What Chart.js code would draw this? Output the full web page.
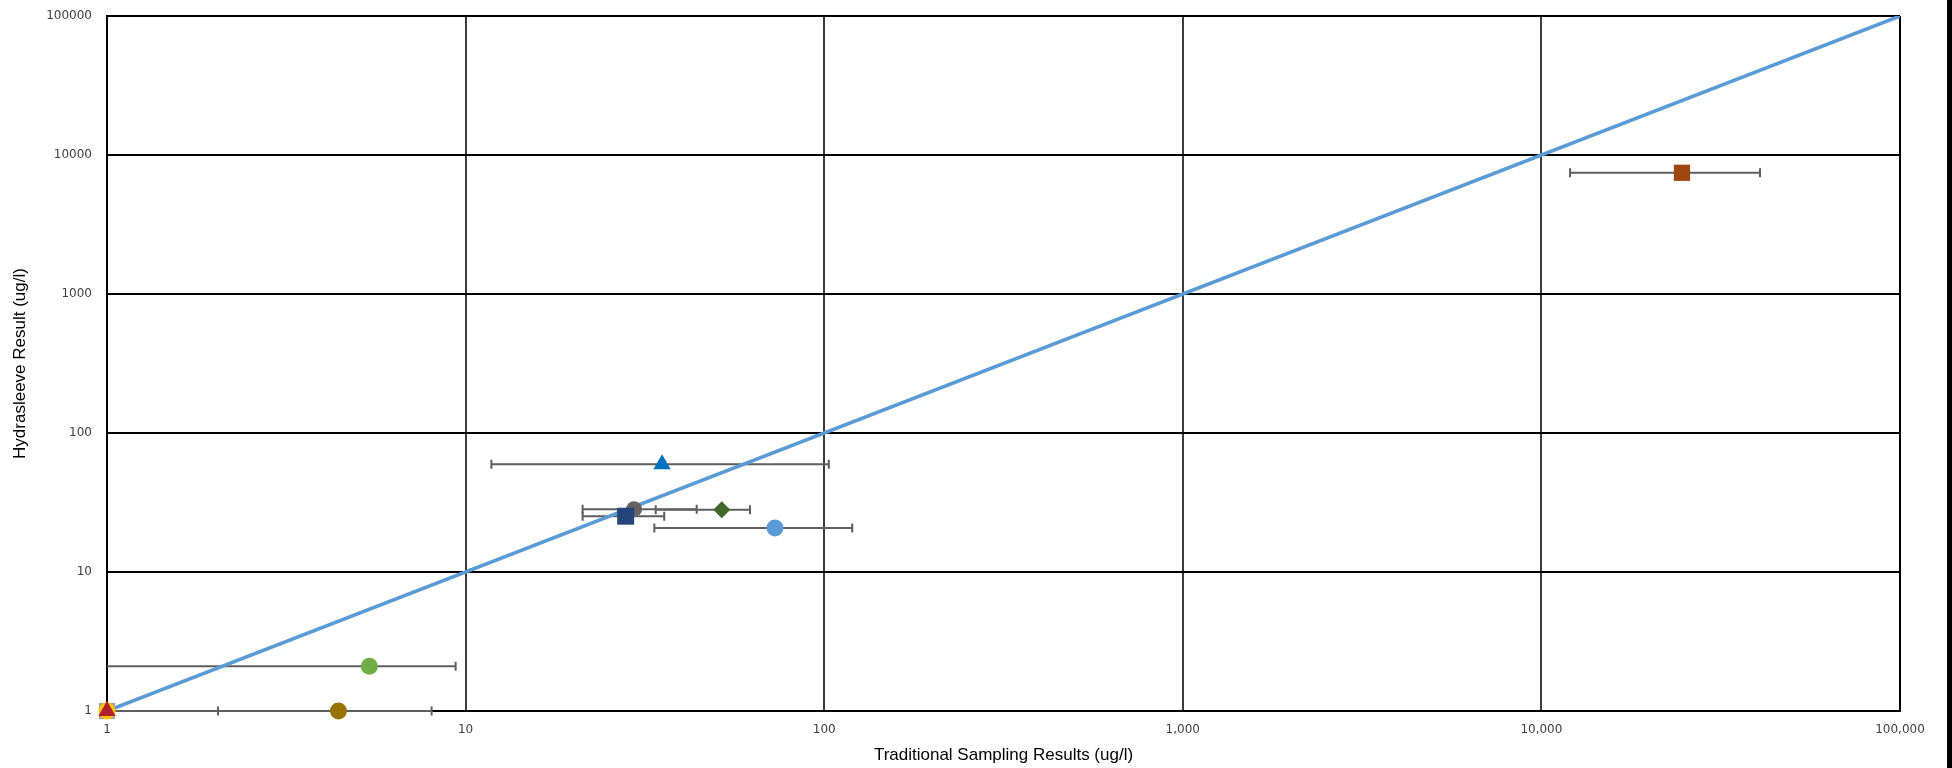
<!DOCTYPE html>
<html>
<head>
<meta charset="utf-8">
<script src="https://cdn.jsdelivr.net/npm/chart.js@4.4.1/dist/chart.umd.min.js"></script>
<style>
  html, body { margin: 0; padding: 0; background: #000; }
  #wrap { width: 1947px; height: 768px; background: #fff; }
  canvas { display: block; background: #fff; }
</style>
</head>
<body>
<div id="wrap"><canvas id="c" width="1947" height="768"></canvas></div>
<script>
// ---- Data ----
const tickValues = [1, 10, 100, 1000, 10000, 100000];
const xTickLabels = ['1', '10', '100', '1,000', '10,000', '100,000'];
const yTickLabels = ['1', '10', '100', '1000', '10000', '100000'];

const xTitle = 'Traditional Sampling Results (ug/l)';
const yTitle = 'Hydrasleeve Result (ug/l)';

// 1:1 reference line
const lineX = [1, 100000];
const lineY = [1, 100000];

// Sample points (one series each)
const pointNames  = ['S1', 'S2', 'S3', 'S4', 'S5', 'S6', 'S7', 'S8', 'S9', 'S10', 'S11'];
const pointX      = [1,    1,    1,    4.42, 5.39, 35.3, 29.5, 27.95, 51.8, 72.9, 24660];
const pointY      = [1,    1,    1,    1,    2.10, 59.5, 28.3, 25.2,  28.1, 20.7, 7450];
const xErrLow     = [null, null, 1,    0.5,  0.9,  11.8, 21.2, 21.2,  33.9, 33.6, 12020];
const xErrHigh    = [null, null, 2.04, 8.04, 9.38, 103,  44.1, 35.8,  62.1, 119.7, 40700];
const pointColors = ['#A5A5A5', '#FFC000', '#B0202A', '#997300', '#70AD47', '#0070C0', '#636363', '#264478', '#43682B', '#5B9BD5', '#9E480E'];
const pointStyles = ['rect', 'circle', 'triangle', 'circle', 'circle', 'triangle', 'circle', 'rect', 'rectRot', 'circle', 'rect'];
const pointSizes  = [11.5, 8.5, 10, 8.5, 8.5, 10, 8, 12, 8.5, 8.5, 11.5];

// ---- Build datasets ----
const datasets = [];
pointX.forEach((x, i) => {
  datasets.push({
    type: 'scatter',
    label: pointNames[i],
    data: [{ x: x, y: pointY[i] }],
    backgroundColor: pointColors[i],
    borderColor: pointColors[i],
    borderWidth: 0,
    pointStyle: pointStyles[i],
    pointRadius: pointSizes[i],
    pointHoverRadius: pointSizes[i],
    clip: false,
    order: pointX.length - i
  });
});
datasets.push({
  type: 'line',
  label: '1:1',
  data: lineX.map((x, i) => ({ x: x, y: lineY[i] })),
  borderColor: '#5B9BD5',
  borderWidth: 3.5,
  pointRadius: 0,
  fill: false,
  order: 100
});

const errorBars = {
  id: 'errorBars',
  beforeDatasetsDraw(chart) {
    const ctx = chart.ctx;
    const xs = chart.scales.x, ys = chart.scales.y;
    const area = chart.chartArea;
    ctx.save();
    ctx.strokeStyle = '#5f5f5f';
    ctx.lineWidth = 2;
    for (let i = 0; i < pointX.length; i++) {
      if (xErrLow[i] == null) continue;
      const y = ys.getPixelForValue(pointY[i]);
      let x1 = xs.getPixelForValue(xErrLow[i]);
      let x2 = xs.getPixelForValue(xErrHigh[i]);
      const cap1 = x1 >= area.left;
      x1 = Math.max(x1, area.left);
      ctx.beginPath();
      ctx.moveTo(x1, y); ctx.lineTo(x2, y);
      if (cap1) { ctx.moveTo(x1, y - 4.5); ctx.lineTo(x1, y + 4.5); }
      ctx.moveTo(x2, y - 4.5); ctx.lineTo(x2, y + 4.5);
      ctx.stroke();
    }
    ctx.restore();
  }
};

new Chart(document.getElementById('c'), {
  data: { datasets: datasets },
  options: {
    responsive: false,
    animation: false,
    events: [],
    layout: { padding: { top: 16, right: 47, bottom: 0, left: 0 } },
    plugins: { legend: { display: false }, tooltip: { enabled: false } },
    scales: {
      x: {
        type: 'logarithmic',
        position: 'bottom',
        min: 1, max: 100000,
        afterBuildTicks: (s) => { s.ticks = tickValues.map(v => ({ value: v })); },
        afterFit: (s) => { s.height = 57; s.paddingLeft = 0; s.paddingRight = 0; },
        ticks: {
          autoSkip: false, maxRotation: 0,
          padding: 12,
          color: '#404040',
          font: { family: 'DejaVu Sans', size: 12 },
          callback: (v) => { const k = tickValues.indexOf(v); return k >= 0 ? xTickLabels[k] : ''; }
        },
        grid: {
          drawTicks: false,
          lineWidth: 2,
          color: (c) => (c.index === 0 || c.index === tickValues.length - 1) ? '#000' : '#3c3c3c'
        },
        border: { display: true, color: '#000', width: 2 },
        title: {
          display: true, text: xTitle, color: '#000',
          font: { family: 'Liberation Sans', size: 17 },
          padding: { top: 0, bottom: 2 }
        }
      },
      y: {
        type: 'logarithmic',
        position: 'left',
        min: 1, max: 100000,
        afterBuildTicks: (s) => { s.ticks = tickValues.map(v => ({ value: v })); },
        afterFit: (s) => { s.width = 107; s.paddingTop = 0; s.paddingBottom = 0; },
        ticks: {
          autoSkip: false,
          padding: 15,
          color: '#404040',
          font: { family: 'DejaVu Sans', size: 12 },
          callback: (v) => { const k = tickValues.indexOf(v); return k >= 0 ? yTickLabels[k] : ''; }
        },
        grid: { drawTicks: false, lineWidth: 2, color: '#000' },
        border: { display: true, color: '#000', width: 2 },
        title: {
          display: true, text: yTitle, color: '#000',
          font: { family: 'Liberation Sans', size: 17 },
          padding: { top: 10, bottom: 0 }
        }
      }
    }
  },
  plugins: [errorBars]
});
</script>
</body>
</html>
